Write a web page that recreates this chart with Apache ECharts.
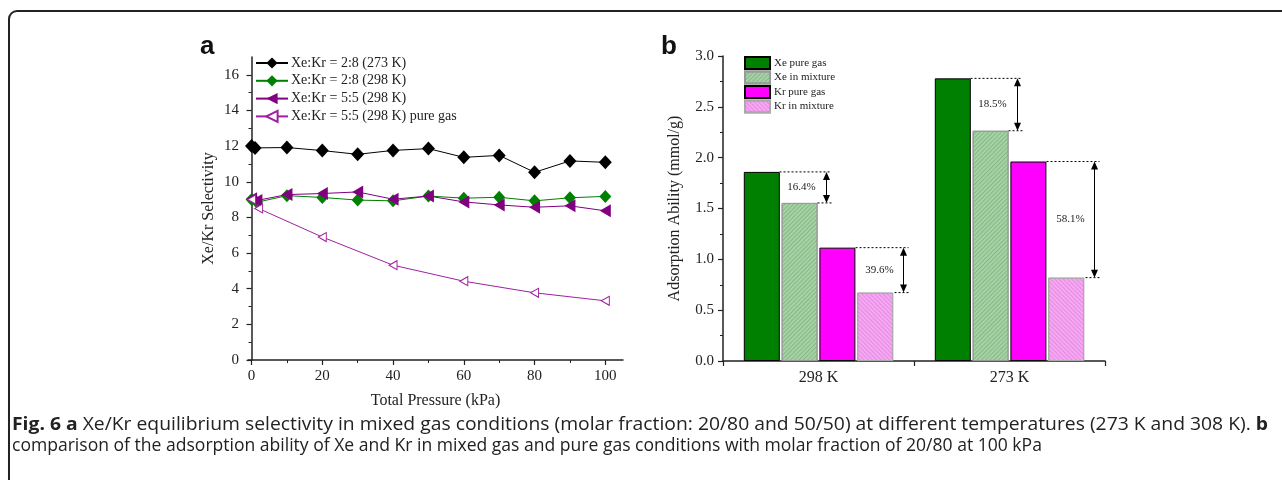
<!DOCTYPE html>
<html><head><meta charset="utf-8">
<script src="https://cdn.jsdelivr.net/npm/echarts@6/dist/echarts.min.js"></script>
<style>html,body{margin:0;padding:0;background:#fff}#c{width:1282px;height:480px}</style>
</head><body><div id="c"></div>
<script>
// ---------- Data (panel a) ----------
const legendA = ['Xe:Kr = 2:8 (273 K)','Xe:Kr = 2:8 (298 K)','Xe:Kr = 5:5 (298 K)','Xe:Kr = 5:5 (298 K) pure gas'];
const pressureA = [0,1,10,20,30,40,50,60,70,80,90,100];
const sel273_28 = [12.0,11.9,11.92,11.75,11.54,11.76,11.86,11.37,11.48,10.53,11.17,11.09];
const pressureB = [0,1.5,10,20,30,40,50,60,70,80,90,100];
const sel298_28 = [9.0,8.85,9.22,9.12,8.97,8.93,9.2,9.08,9.13,8.93,9.1,9.18];
const sel298_55 = [9.05,8.95,9.28,9.34,9.43,9.02,9.2,8.87,8.7,8.57,8.65,8.37];
const pressurePure = [0,2,20,40,60,80,100];
const sel298_55pure = [9.0,8.5,6.9,5.32,4.42,3.77,3.32];
const xTicksA = [0,20,40,60,80,100];
const xMinorA = [10,30,50,70,90];
const yTicksA = [0,2,4,6,8,10,12,14,16];
const yMinorA = [1,3,5,7,9,11,13,15];

// ---------- Data (panel b) ----------
const tempCats = ['298 K','273 K'];
const legendB = ['Xe pure gas','Xe in mixture','Kr pure gas','Kr in mixture'];
const xePure = [1.86, 2.78];
const xeMix = [1.555, 2.265];
const krPure = [1.115, 1.962];
const krMix = [0.673, 0.82];
const xePct = ['16.4%','18.5%'];
const krPct = ['39.6%','58.1%'];

// ---------- Caption ----------
const cap1 = [['Fig. 6 a', true], [' Xe/Kr equilibrium selectivity in mixed gas conditions (molar fraction: 20/80 and 50/50) at different temperatures (273 K and 308 K). ', false], ['b', true]];
const cap2 = [['comparison of the adsorption ability of Xe and Kr in mixed gas and pure gas conditions with molar fraction of 20/80 at 100 kPa', false]];

const pairs = (xs, ys) => xs.map((x,i)=>[x, ys[i]]);
const serif = 'Liberation Serif';
const capFont = 'Open Sans';

function measure(parts, size){
  const ctx = document.createElement('canvas').getContext('2d');
  let w = 0;
  parts.forEach(([t,b])=>{ ctx.font = (b?'bold ':'') + size + 'px "' + capFont + '"'; w += ctx.measureText(t).width; });
  return w;
}
// font size fitted so that line 2 spans its width in the reference
const capSize = Math.max(13, Math.min(18, 14 * 1031 / measure(cap2, 14)));
function capText(parts, x, y, targetW){
  const sx = targetW ? targetW / measure(parts, capSize) : 1;
  return {type:'text', x:x, y:y, scaleX:sx, style:{
    text: parts.map(([t,b])=> b ? '{b|'+t+'}' : '{n|'+t+'}').join(''),
    rich:{ b:{fontFamily:capFont, fontSize:capSize, fontWeight:'bold', fill:'#222'},
           n:{fontFamily:capFont, fontSize:capSize, fill:'#222'} },
    verticalAlign:'middle'}};
}

// annotation data: [catIndex, top, bottom, side(0=Xe,1=Kr)]
const annData = [];
const annLabels = [];
tempCats.forEach((c,i)=>{
  annData.push([i, xePure[i], xeMix[i], 0]); annLabels.push(xePct[i]);
  annData.push([i, krPure[i], krMix[i], 1]); annLabels.push(krPct[i]);
});

function renderAnn(params, api){
  const ci = api.value(0), top = api.value(1), bot = api.value(2), side = api.value(3);
  const label = annLabels[params.dataIndex];
  const cx = api.coord([ci, 0])[0];
  const yT = api.coord([ci, top])[1];
  const yB = api.coord([ci, bot])[1];
  let topFrom, topTo, botFrom, botTo, ax, lx;
  if (side === 0){ topFrom = cx-39; topTo = cx+12; botFrom = cx-1; botTo = cx+14; ax = cx+8; lx = cx-17; }
  else { topFrom = cx+37; topTo = cx+90; botFrom = cx+76; botTo = cx+92; ax = cx+85; lx = cx+61; }
  const dash = {stroke:'#000', lineWidth:1, lineDash:[2,2]};
  const ah = 8, aw = 3.5;
  return {type:'group', children:[
    {type:'line', shape:{x1:topFrom,y1:yT,x2:topTo,y2:yT}, style:dash},
    {type:'line', shape:{x1:botFrom,y1:yB,x2:botTo,y2:yB}, style:dash},
    {type:'line', shape:{x1:ax,y1:yT+ah-1,x2:ax,y2:yB-ah+1}, style:{stroke:'#000', lineWidth:1}},
    {type:'polygon', shape:{points:[[ax,yT],[ax-aw,yT+ah],[ax+aw,yT+ah]]}, style:{fill:'#000'}},
    {type:'polygon', shape:{points:[[ax,yB],[ax-aw,yB-ah],[ax+aw,yB-ah]]}, style:{fill:'#000'}},
    {type:'text', x:lx, y:(yT+yB)/2, style:{text:label, fontFamily:serif, fontSize:11, fill:'#222', align:'center', verticalAlign:'middle'}}
  ]};
}

const chart = echarts.init(document.getElementById('c'), null, {renderer:'canvas'});
const axisCommon = {
  axisLine:{show:true, lineStyle:{color:'#222', width:1.5}},
  axisTick:{show:true, inside:false, length:5, lineStyle:{color:'#222', width:1.2}},
  splitLine:{show:false},
  axisLabel:{fontFamily:serif, fontSize:15, color:'#222'},
  nameTextStyle:{fontFamily:serif, fontSize:16, color:'#222'}
};
const minorAxis = {
  axisLine:{show:false}, axisLabel:{show:false}, splitLine:{show:false},
  axisTick:{show:true, inside:false, length:3, lineStyle:{color:'#222', width:1}}
};

const option = {
  animation:false,
  backgroundColor:'#fff',
  title:[
    {text:'a', left:195, top:29, textStyle:{fontFamily:'Liberation Sans', fontWeight:'bold', fontSize:26, color:'#111'}},
    {text:'b', left:656, top:29, textStyle:{fontFamily:'Liberation Sans', fontWeight:'bold', fontSize:26, color:'#111'}}
  ],
  graphic:[
    {type:'rect', shape:{x:9, y:11, width:1400, height:600, r:8}, style:{fill:null, stroke:'#222', lineWidth:2}, silent:true},
    capText(cap1, 12, 425, 1256),
    capText(cap2, 12, 446, 0)
  ],
  legend:[
    {data:legendA, orient:'vertical', left:255, top:56, padding:0, itemWidth:32, itemHeight:14, itemGap:3.8,
     textStyle:{fontFamily:serif, fontSize:14, color:'#222', padding:[0,0,0,-2]}},
    {data:legendB, orient:'vertical', left:744, top:56, padding:0, itemWidth:25, itemHeight:12, itemGap:0.5, icon:'rect',
     textStyle:{fontFamily:serif, fontSize:11, color:'#222', padding:[0,0,0,-1]}}
  ],
  grid:[
    {left:248, right:659, top:57, bottom:120},
    {left:723, right:177, top:56, bottom:119}
  ],
  xAxis:[
    Object.assign({}, axisCommon, {type:'value', gridIndex:0, min:-1, max:105, name:'Total Pressure (kPa)', nameLocation:'middle', nameGap:33,
      axisTick:{show:true, length:5, lineStyle:{color:'#222', width:1.2}, customValues:xTicksA},
      axisLabel:{fontFamily:serif, fontSize:15, color:'#222', margin:9, customValues:xTicksA}}),
    Object.assign({}, minorAxis, {type:'value', gridIndex:0, min:-1, max:105, position:'bottom',
      axisTick:{show:true, length:3, lineStyle:{color:'#222', width:1}, customValues:xMinorA}}),
    Object.assign({}, axisCommon, {type:'category', gridIndex:1, data:tempCats,
      axisTick:{show:true, length:5, alignWithLabel:false, lineStyle:{color:'#222', width:1.2}},
      axisLabel:{fontFamily:serif, fontSize:16, color:'#222', margin:9}})
  ],
  yAxis:[
    Object.assign({}, axisCommon, {type:'value', gridIndex:0, min:0, max:17, name:'Xe/Kr Selectivity', nameLocation:'middle', nameGap:31,
      axisTick:{show:true, length:5, lineStyle:{color:'#222', width:1.2}, customValues:yTicksA},
      axisLabel:{fontFamily:serif, fontSize:15, color:'#222', margin:9, customValues:yTicksA}}),
    Object.assign({}, minorAxis, {type:'value', gridIndex:0, min:0, max:17, position:'left',
      axisTick:{show:true, length:3, lineStyle:{color:'#222', width:1}, customValues:yMinorA}}),
    Object.assign({}, axisCommon, {type:'value', gridIndex:1, min:0, max:3, interval:0.5, name:'Adsorption Ability (mmol/g)', nameLocation:'middle', nameGap:40,
      axisLabel:{fontFamily:serif, fontSize:15, color:'#222', margin:9, formatter:v=>v.toFixed(1)},
      minorTick:{show:true, splitNumber:2, length:3, lineStyle:{color:'#222', width:1}}})
  ],
  series:[
    {name:legendA[0], type:'line', xAxisIndex:0, yAxisIndex:0, data:pairs(pressureA, sel273_28),
     symbol:'diamond', symbolSize:[13,14], lineStyle:{color:'#000', width:1}, itemStyle:{color:'#000'}, z:3},
    {name:legendA[1], type:'line', xAxisIndex:0, yAxisIndex:0, data:pairs(pressureB, sel298_28),
     symbol:'diamond', symbolSize:[12,13], lineStyle:{color:'#008000', width:1}, itemStyle:{color:'#008000'}, z:3},
    {name:legendA[2], type:'line', xAxisIndex:0, yAxisIndex:0, data:pairs(pressureB, sel298_55),
     symbol:'triangle', symbolRotate:90, symbolSize:[13,11], lineStyle:{color:'#800080', width:1}, itemStyle:{color:'#800080'}, z:4},
    {name:legendA[3], type:'line', xAxisIndex:0, yAxisIndex:0, data:pairs(pressurePure, sel298_55pure),
     symbol:'triangle', symbolRotate:90, symbolSize:[9,8], lineStyle:{color:'#a020a0', width:1},
     itemStyle:{color:'#fff', borderColor:'#a020a0', borderWidth:1}, z:4},

    {name:legendB[0], type:'bar', xAxisIndex:2, yAxisIndex:2, data:xePure, barWidth:36, barGap:'5%',
     itemStyle:{color:'#008000', borderColor:'#000', borderWidth:1}},
    {name:legendB[1], type:'bar', xAxisIndex:2, yAxisIndex:2, data:xeMix, barWidth:36, barGap:'5%',
     itemStyle:{color:'#a6d3a6', borderColor:'#999', borderWidth:1,
       decal:{symbol:'rect', symbolSize:1, dashArrayX:[1,0], dashArrayY:[1,2], rotation:-Math.PI/4, color:'rgba(110,160,110,0.55)'}}},
    {name:legendB[2], type:'bar', xAxisIndex:2, yAxisIndex:2, data:krPure, barWidth:36, barGap:'5%',
     itemStyle:{color:'#ff00ff', borderColor:'#000', borderWidth:1}},
    {name:legendB[3], type:'bar', xAxisIndex:2, yAxisIndex:2, data:krMix, barWidth:36, barGap:'5%',
     itemStyle:{color:'#f6a8f3', borderColor:'#aaa', borderWidth:1,
       decal:{symbol:'rect', symbolSize:1, dashArrayX:[1,0], dashArrayY:[1,2], rotation:Math.PI/4, color:'rgba(210,110,210,0.5)'}}},
    {type:'custom', xAxisIndex:2, yAxisIndex:2, data:annData, renderItem:renderAnn,
     encode:{x:0, y:[1,2]}, z:5, silent:true}
  ]
};
chart.setOption(option);
</script></body></html>
